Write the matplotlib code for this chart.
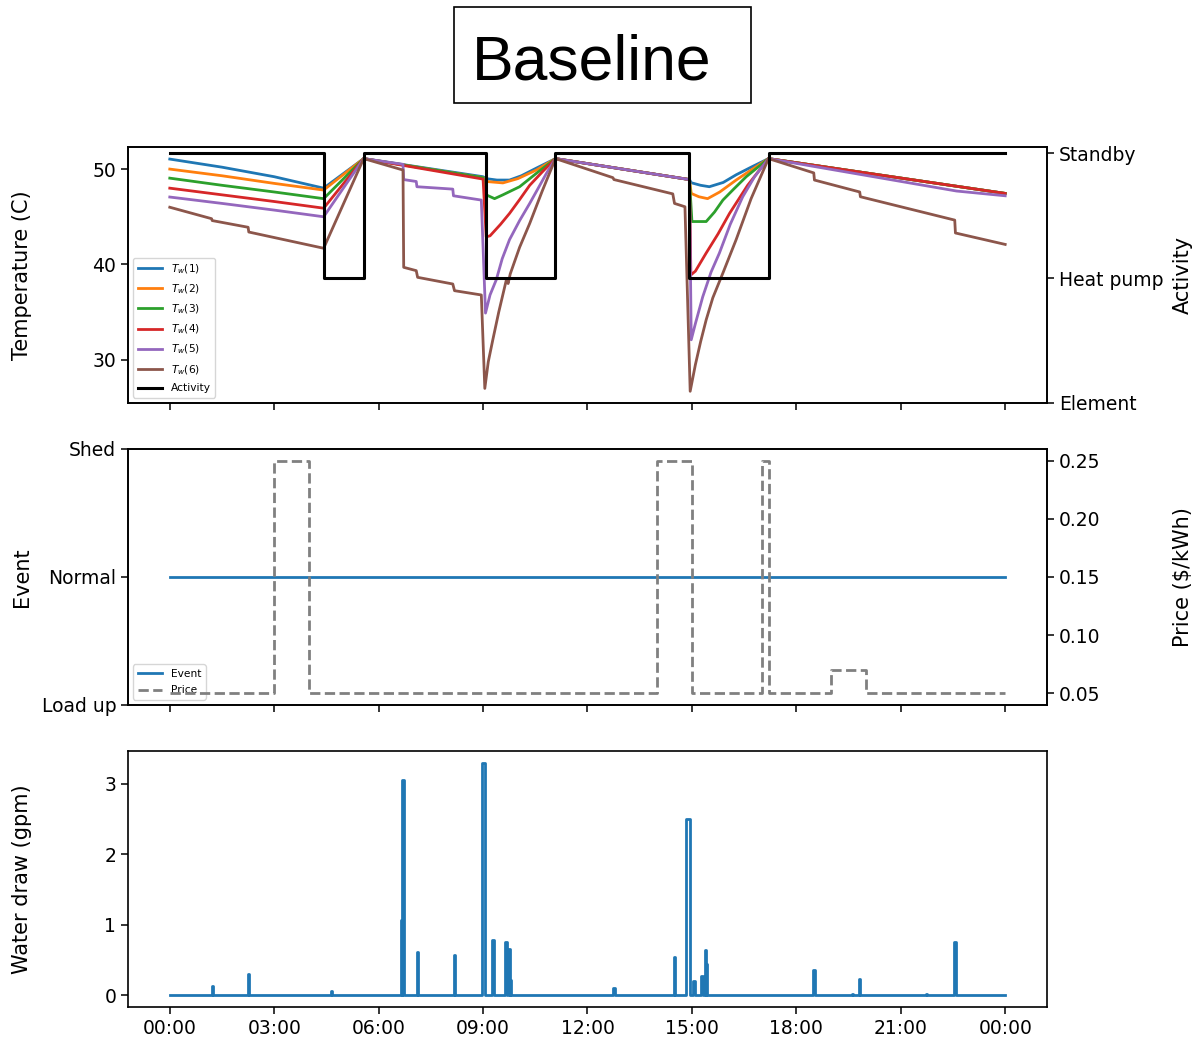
import matplotlib
matplotlib.use("Agg")
import matplotlib.pyplot as plt
from matplotlib.patches import Rectangle
from matplotlib.ticker import FuncFormatter

# ---- data (hours of the day) ----
tw1_t = [0, 1.5, 3.0, 4.42, 5.57, 9.0, 9.09, 9.4, 9.76, 10.1, 10.53, 11.08,
         14.93, 14.98, 15.25, 15.5, 15.9, 16.27, 16.7, 17.2, 24]
tw1_v = [51.05, 50.2, 49.2, 48.0, 51.1, 49.2, 49.0, 48.85, 48.85, 49.3, 50.1, 51.1,
         48.9, 48.57, 48.3, 48.15, 48.6, 49.4, 50.2, 51.1, 47.45]

tw2_t = [0, 1.5, 3.0, 4.42, 5.57, 9.0, 9.09, 9.57, 10.0, 10.53, 11.08,
         14.93, 14.98, 15.2, 15.45, 15.8, 16.27, 16.7, 17.2, 24]
tw2_v = [50.0, 49.3, 48.5, 47.8, 51.1, 49.1, 48.7, 48.55, 49.0, 49.9, 51.1,
         48.9, 47.45, 47.1, 46.9, 47.6, 48.85, 49.9, 51.1, 47.45]

tw3_t = [0, 1.5, 3.0, 4.42, 5.57, 9.0, 9.09, 9.33, 9.57, 10.05, 10.53, 11.08,
         14.93, 15.0, 15.41, 15.65, 15.89, 16.2, 16.56, 17.2, 24]
tw3_v = [49.05, 48.3, 47.6, 46.9, 51.1, 49.1, 47.3, 46.9, 47.3, 48.15, 49.55, 51.1,
         48.9, 44.5, 44.5, 45.5, 46.75, 47.9, 49.2, 51.1, 47.45]

tw4_t = [0, 1.5, 3.0, 4.42, 5.57, 9.0, 9.09, 9.2, 9.5, 9.76, 10.05, 10.34, 10.7, 11.08,
         14.93, 14.97, 15.1, 15.41, 15.75, 16.08, 16.6, 17.2, 24]
tw4_v = [48.0, 47.3, 46.6, 45.9, 51.1, 48.95, 42.9, 43.0, 44.2, 45.35, 46.8, 48.3, 49.7, 51.1,
         48.9, 38.9, 39.3, 41.2, 43.2, 45.35, 48.3, 51.1, 47.45]

tw5_t = [0, 1.5, 3.0, 4.42, 5.57, 6.7, 6.72, 7.08, 7.1, 8.13, 8.15, 8.95,
         9.07, 9.2, 9.38, 9.55, 9.76, 10.05, 10.34, 10.6, 10.82, 11.08,
         14.93, 14.98, 15.1, 15.31, 15.55, 15.79, 16.1, 16.46, 16.8, 17.2, 22.6, 24]
tw5_v = [47.07, 46.4, 45.7, 45.0, 51.1, 50.5, 48.9, 48.7, 48.15, 47.9, 47.2, 46.75,
         34.9, 36.8, 38.4, 40.6, 42.6, 44.6, 46.4, 48.1, 49.55, 51.1,
         48.9, 32.1, 33.8, 36.6, 39.2, 41.2, 44.2, 47.1, 49.2, 51.1, 47.7, 47.2]

tw6_t = [0, 1.2, 1.22, 2.25, 2.27, 4.42, 5.57, 6.7, 6.72, 7.08, 7.12, 8.13, 8.18, 8.95,
         9.05, 9.15, 9.28, 9.45, 9.67, 9.72, 9.78, 10.05, 10.34, 10.7, 11.08,
         12.73, 12.76, 14.45, 14.5, 14.8,
         14.95, 15.1, 15.25, 15.41, 15.6, 15.89, 16.27, 16.7, 17.2,
         18.5, 18.52, 19.82, 19.84, 22.55, 22.57, 24]
tw6_v = [46.0, 44.8, 44.6, 43.9, 43.4, 41.7, 51.1, 49.9, 39.7, 39.35, 38.65, 37.95, 37.25, 36.8,
         27.0, 29.8, 32.1, 35.0, 38.4, 38.0, 39.0, 41.8, 44.3, 47.7, 51.1,
         49.1, 48.9, 47.4, 46.4, 46.05,
         26.7, 29.5, 31.9, 34.2, 36.5, 39.1, 42.6, 46.9, 51.1,
         49.6, 48.85, 47.6, 47.1, 44.65, 43.3, 42.1]

tw_series = [(tw1_t, tw1_v), (tw2_t, tw2_v), (tw3_t, tw3_v), (tw4_t, tw4_v), (tw5_t, tw5_v), (tw6_t, tw6_v)]

# 2 = standby, 1 = heat pump, 0 = element
activity_t = [0, 4.42, 5.57, 9.07, 11.08, 14.93, 17.2, 24]
activity_v = [2, 1, 2, 1, 2, 1, 2, 2]
activity_labels = ["Element", "Heat pump", "Standby"]

event_t = [0, 24]
event_v = [0, 0]
event_labels = ["Load up", "Normal", "Shed"]

price_t = [0, 3, 4, 14, 15, 17, 17.2, 19, 20, 24]
price_v = [0.05, 0.25, 0.05, 0.25, 0.05, 0.25, 0.05, 0.07, 0.05, 0.05]

# water draws: start hour, end hour, flow (gpm)
draw_start = [1.20, 2.25, 4.63, 6.64, 6.67, 7.10, 8.16, 8.98, 9.26, 9.64, 9.73, 9.78, 12.74, 14.48,
              14.83, 15.04, 15.26, 15.37, 15.40, 18.49, 19.59, 19.80, 21.72, 22.54]
draw_end = [1.24, 2.29, 4.67, 6.67, 6.72, 7.14, 8.20, 9.06, 9.30, 9.68, 9.78, 9.81, 12.78, 14.52,
            14.95, 15.08, 15.31, 15.40, 15.43, 18.53, 19.62, 19.84, 21.76, 22.58]
draw_gpm = [0.13, 0.30, 0.06, 1.07, 3.06, 0.61, 0.57, 3.30, 0.78, 0.75, 0.66, 0.22, 0.10, 0.54,
            2.50, 0.20, 0.27, 0.65, 0.44, 0.36, 0.02, 0.23, 0.02, 0.75]

water_t = [0]
water_v = [0]
for s, e, q in zip(draw_start, draw_end, draw_gpm):
    water_t += [s, s, e, e]
    water_v += [0, q, q, 0]
water_t.append(24)
water_v.append(0)

# ---- figure ----
plt.rcParams['font.size'] = 13.5
plt.rcParams['axes.labelsize'] = 15
plt.rcParams['axes.linewidth'] = 1.2
plt.rcParams['xtick.major.size'] = 5
plt.rcParams['ytick.major.size'] = 5
plt.rcParams['xtick.major.width'] = 1.1
plt.rcParams['ytick.major.width'] = 1.1

fig, (ax1, ax2, ax3) = plt.subplots(3, 1, sharex=True, figsize=(11.93, 10.46), dpi=100)
fig.subplots_adjust(left=0.1073, right=0.8776, top=0.8595, bottom=0.0373, hspace=0.18)

colors = ['#1f77b4', '#ff7f0e', '#2ca02c', '#d62728', '#9467bd', '#8c564b']
handles = []
for i, (t, v) in enumerate(tw_series):
    h, = ax1.plot(t, v, color=colors[i], lw=2, label=r'$T_w$(%d)' % (i + 1))
    handles.append(h)
ax1.set_yticks([30, 40, 50])
ax1.set_ylabel('Temperature (C)')

ax1b = ax1.twinx()
h, = ax1b.plot(activity_t, activity_v, color='black', lw=2.2, drawstyle='steps-post', label='Activity')
handles.append(h)
ax1b.set_ylim(0, 2.05)
ax1b.set_yticks([0, 1, 2])
ax1b.set_yticklabels(activity_labels)
ax1b.set_ylabel('Activity')
ax1.legend(handles=handles, loc='lower left', fontsize=7.7, handlelength=2.3, labelspacing=0.62)

h1, = ax2.plot(event_t, event_v, color='#1f77b4', lw=2, label='Event')
ax2.set_ylim(-1, 1)
ax2.set_yticks([-1, 0, 1])
ax2.set_yticklabels(event_labels)
ax2.set_ylabel('Event')
ax2b = ax2.twinx()
h2, = ax2b.plot(price_t, price_v, color='gray', lw=2, ls='--', drawstyle='steps-post', label='Price')
ax2b.set_ylabel('Price ($/kWh)')
ax2.legend(handles=[h1, h2], loc='lower left', fontsize=7.7, handlelength=2.3, labelspacing=0.62)

ax3.plot(water_t, water_v, color='#1f77b4', lw=2)
ax3.set_ylabel('Water draw (gpm)')
ax3.set_xticks(range(0, 25, 3))
ax3.xaxis.set_major_formatter(FuncFormatter(lambda x, pos: '%02d:00' % (int(round(x)) % 24)))

for ax in (ax1, ax2, ax3):
    ax.yaxis.set_label_coords(-0.1045, 0.5)
for ax in (ax1b, ax2b):
    ax.yaxis.set_label_coords(1.1368, 0.5)

# title box
fig.patches.append(Rectangle((454 / 1193, 1 - 103 / 1046), 297 / 1193, 96 / 1046,
                             transform=fig.transFigure, fill=False, ec='black', lw=1.2))
fig.text(472 / 1193, 1 - 80 / 1046, 'Baseline', family='Liberation Sans', fontsize=45,
         ha='left', va='baseline')

fig.savefig('out.png', dpi=100)
